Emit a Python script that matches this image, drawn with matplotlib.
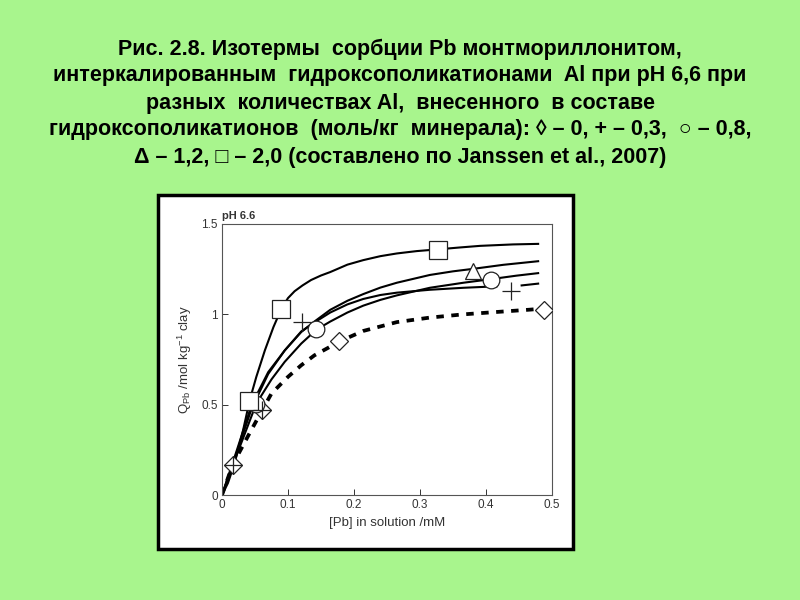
import matplotlib
matplotlib.use('Agg')
from matplotlib import pyplot as plt
from matplotlib.patches import Rectangle

plt.rcParams['mathtext.fontset'] = 'custom'
plt.rcParams['mathtext.rm'] = 'Liberation Sans'
plt.rcParams['mathtext.it'] = 'Liberation Sans:italic'

# curves: [Pb] in solution (mM) vs Q_Pb (mol/kg clay)
sq_x = [0, 0.009, 0.019, 0.032, 0.042, 0.052, 0.065, 0.078, 0.090, 0.100, 0.110, 0.122,
        0.135, 0.150, 0.164, 0.190, 0.214, 0.240, 0.265, 0.295, 0.325, 0.360, 0.391, 0.441, 0.479]
sq_y = [0, 0.066, 0.175, 0.359, 0.525, 0.654, 0.801, 0.930, 1.031, 1.090, 1.128, 1.160,
        1.190, 1.215, 1.234, 1.275, 1.300, 1.322, 1.337, 1.350, 1.359, 1.370, 1.379, 1.387, 1.390]

tri_x = [0, 0.020, 0.045, 0.070, 0.095, 0.120, 0.140, 0.164, 0.190, 0.214, 0.240, 0.265,
         0.315, 0.350, 0.381, 0.426, 0.479]
tri_y = [0, 0.220, 0.500, 0.680, 0.800, 0.902, 0.960, 1.025, 1.075, 1.112, 1.148, 1.175,
         1.218, 1.238, 1.252, 1.274, 1.294]

circ_x = [0, 0.020, 0.052, 0.075, 0.095, 0.120, 0.143, 0.164, 0.190, 0.214, 0.240, 0.265,
          0.315, 0.366, 0.406, 0.446, 0.479]
circ_y = [0, 0.200, 0.506, 0.640, 0.737, 0.838, 0.915, 0.960, 1.010, 1.048, 1.080, 1.105,
          1.147, 1.175, 1.194, 1.214, 1.228]

plus_x = [0, 0.016, 0.045, 0.070, 0.095, 0.120, 0.140, 0.164, 0.190, 0.214, 0.240, 0.265,
          0.315, 0.366, 0.416]
plus_y = [0, 0.167, 0.480, 0.670, 0.800, 0.905, 0.955, 1.010, 1.055, 1.085, 1.107, 1.120,
          1.136, 1.147, 1.155]
plus_x2 = [0.454, 0.479]
plus_y2 = [1.160, 1.170]

dia_x = [0, 0.016, 0.040, 0.061, 0.075, 0.100, 0.120, 0.140, 0.161, 0.178, 0.214, 0.265,
         0.315, 0.366, 0.416, 0.467, 0.480]
dia_y = [0, 0.167, 0.330, 0.470, 0.562, 0.654, 0.718, 0.773, 0.815, 0.850, 0.908, 0.957,
         0.982, 1.000, 1.013, 1.026, 1.030]

# measured points (markers)
m_dia_x = [0.016, 0.061, 0.178, 0.488]
m_dia_y = [0.167, 0.470, 0.853, 1.026]
m_plus_x = [0.016, 0.061, 0.121, 0.438]
m_plus_y = [0.167, 0.470, 0.960, 1.127]
m_circ_x = [0.052, 0.143, 0.407]
m_circ_y = [0.503, 0.921, 1.190]
m_tri_x = [0.381]
m_tri_y = [1.240]
m_sq_x = [0.041, 0.089, 0.327]
m_sq_y = [0.520, 1.031, 1.357]

title_lines = [
    'Рис. 2.8. Изотермы  сорбции Pb монтмориллонитом,',
    'интеркалированным  гидроксополикатионами  Al при pH 6,6 при',
    'разных  количествах Al,  внесенного  в составе',
    'гидроксополикатионов  (моль/кг  минерала): ◊ – 0, + – 0,3,  ○ – 0,8,',
    'Δ – 1,2, □ – 2,0 (составлено по Janssen et al., 2007)',
]

bg = '#a8f58d'
fig = plt.figure(figsize=(8, 6), dpi=100, facecolor=bg)

for i, line in enumerate(title_lines):
    fig.text(0.5, 1 - (49 + 27 * i) / 600, line, ha='center', va='center',
             fontsize=15.5, fontweight='bold', family=['Liberation Sans', 'DejaVu Sans'])

# framed white panel
fig.patches.append(Rectangle((158 / 800, 1 - 549 / 600), 415 / 800, 354 / 600,
                             transform=fig.transFigure, facecolor='white',
                             edgecolor='black', linewidth=2.5, zorder=-1))

ax = fig.add_axes([222 / 800, 105 / 600, 330 / 800, 271 / 600])
ax.set_zorder(2)
ax.set_facecolor('white')

lw = 1.5
ax.plot(sq_x, sq_y, color='black', lw=lw)
ax.plot(tri_x, tri_y, color='black', lw=lw)
ax.plot(circ_x, circ_y, color='black', lw=lw)
ax.plot(plus_x, plus_y, color='black', lw=lw)
ax.plot(plus_x2, plus_y2, color='black', lw=lw)
ax.plot(dia_x, dia_y, color='black', lw=2.7, dashes=(2, 2))

mk = dict(linestyle='none', markerfacecolor='white', markeredgecolor='#222222',
          markeredgewidth=0.9, zorder=5)
ax.plot(m_dia_x, m_dia_y, marker='D', markersize=9, **mk)
ax.plot(m_plus_x, m_plus_y, marker='+', markersize=13, color='#222222',
        linestyle='none', markeredgewidth=0.9, zorder=6)
ax.plot(m_circ_x, m_circ_y, marker='o', markersize=12, **mk)
ax.plot(m_tri_x, m_tri_y, marker='^', markersize=12, **mk)
ax.plot(m_sq_x, m_sq_y, marker='s', markersize=13, **mk)

ax.set_xlim(0, 0.5)
ax.set_ylim(0, 1.5)
ax.set_xticks([0, 0.1, 0.2, 0.3, 0.4, 0.5])
ax.set_xticklabels(['0', '0.1', '0.2', '0.3', '0.4', '0.5'])
ax.set_yticks([0, 0.5, 1, 1.5])
ax.set_yticklabels(['0', '0.5', '1', '1.5'])
ax.tick_params(direction='in', length=4, width=0.7, labelsize=8.5, colors='#333333', pad=3)
for lab in ax.get_xticklabels() + ax.get_yticklabels():
    lab.set_family('Liberation Sans')
for s in ax.spines.values():
    s.set_linewidth(0.8)
    s.set_color('#555555')

ax.set_xlabel('[Pb] in solution /mM', fontsize=9.5, color='#333333', labelpad=4,
              family='Liberation Sans')
ax.set_ylabel(r'Q$_{\rm Pb}$ /mol kg$^{-1}$ clay', fontsize=9.5, color='#333333', labelpad=5,
              family='Liberation Sans')
ax.text(0, 1.515, 'pH 6.6', transform=ax.transData, fontsize=8, fontweight='bold',
        color='#333333', ha='left', va='bottom', family='Liberation Sans')

fig.savefig('out.png', dpi=100, facecolor=bg)
